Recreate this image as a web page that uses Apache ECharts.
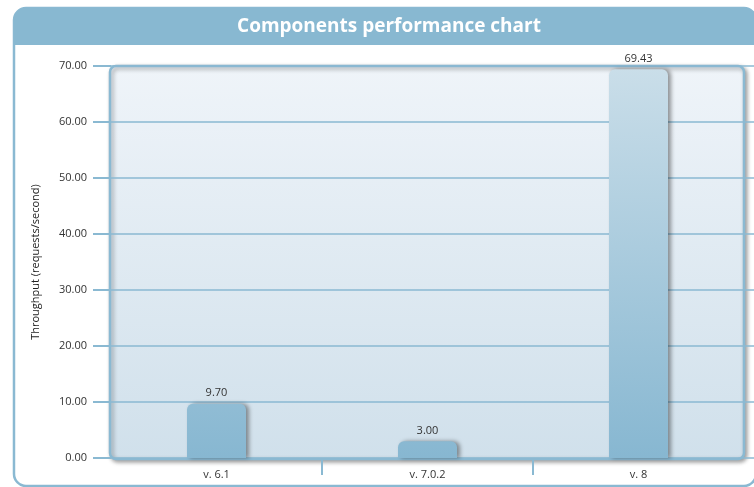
<!DOCTYPE html>
<html><head><meta charset="utf-8">
<script src="https://cdn.jsdelivr.net/npm/echarts@6/dist/echarts.min.js"></script>
<style>html,body{margin:0;padding:0;background:#fff}#c{width:754px;height:487px}</style>
</head><body><div id="c"></div>
<script>
var categories = ['v. 6.1', 'v. 7.0.2', 'v. 8'];
var throughput = [9.70, 3.00, 69.43];
var yTicks = {min: 0, max: 70, interval: 10};
var titleText = 'Components performance chart';
var yName = 'Throughput (requests/second)';

var FONT = '"Open Sans", "Noto Sans", sans-serif';
var LINE = '#8ab9d2';
var G = {left: 111, right: 10, top: 66, bottom: 29};
var chart = echarts.init(document.getElementById('c'));
var gTop = G.top, gBot = 487 - G.bottom;

chart.setOption({
  animation: false,
  graphic: [
    {type: 'rect', z: -30, shape: {x: 14, y: 8, width: 742, height: 478, r: 12},
     style: {fill: '#fff', stroke: LINE, lineWidth: 2.5}},
    {type: 'rect', z: -29, shape: {x: 14, y: 8, width: 742, height: 37, r: [12, 12, 0, 0]},
     style: {fill: '#88b8d1'}},
    {type: 'text', z: -28, x: 389, y: 27,
     style: {text: titleText, fill: '#fff', font: 'bold 19px ' + FONT, textAlign: 'center', textVerticalAlign: 'middle'}},
    {type: 'rect', z: -20, shape: {x: G.left - 1, y: gTop, width: 754 - G.right - G.left + 1, height: gBot - gTop + 1, r: 6},
     style: {
       fill: new echarts.graphic.LinearGradient(0, 0, 0, 1, [{offset: 0, color: '#eff4f9'}, {offset: 1, color: '#d0e0eb'}]),
       stroke: LINE, lineWidth: 2.5,
       shadowBlur: 4, shadowOffsetX: 2, shadowOffsetY: 2, shadowColor: 'rgba(0,0,0,0.35)'
     }}
  ],
  grid: [
    {left: G.left, right: G.right, top: G.top, bottom: G.bottom},
    {left: G.left, right: G.right, top: gBot + 2, height: 15}
  ],
  xAxis: [{
    type: 'category', data: categories, gridIndex: 0,
    axisLine: {show: false},
    axisTick: {show: false},
    axisLabel: {color: '#333', fontFamily: FONT, fontSize: 11, margin: 11}
  }, {
    type: 'category', data: categories, gridIndex: 1,
    axisLine: {show: false}, axisTick: {show: false}, axisLabel: {show: false},
    splitLine: {show: true, showMinLine: false, showMaxLine: false, lineStyle: {color: LINE, width: 2}}
  }],
  yAxis: [{
    type: 'value', min: yTicks.min, max: yTicks.max, interval: yTicks.interval,
    name: yName, nameLocation: 'middle', nameGap: 70,
    nameTextStyle: {color: '#222', fontFamily: FONT, fontSize: 11},
    axisLine: {show: false},
    axisTick: {show: true, length: 18, lineStyle: {color: LINE, width: 2}},
    axisLabel: {color: '#333', fontFamily: FONT, fontSize: 11, margin: 24,
                formatter: function (v) { return v.toFixed(2); }},
    splitLine: {show: true, lineStyle: {color: LINE, width: 1.5}}
  }, {
    type: 'value', position: 'right', min: yTicks.min, max: yTicks.max, interval: yTicks.interval,
    axisLine: {show: false}, axisLabel: {show: false}, splitLine: {show: false},
    axisTick: {show: true, length: 10, lineStyle: {color: LINE, width: 1.5}}
  }, {
    type: 'value', gridIndex: 1, show: false
  }],
  series: [{
    type: 'bar', data: throughput, barWidth: 59,
    itemStyle: {
      color: new echarts.graphic.LinearGradient(0, gTop, 0, gBot, [{offset: 0, color: '#cadee9'}, {offset: 1, color: '#87b7d1'}], true),
      borderRadius: [6, 6, 0, 0],
      shadowBlur: 4, shadowOffsetX: 3, shadowOffsetY: 0, shadowColor: 'rgba(0,0,0,0.4)'
    },
    label: {show: true, position: 'top', distance: 5, color: '#333', fontFamily: FONT, fontSize: 11,
            formatter: function (p) { return p.value.toFixed(2); }}
  }]
});
</script></body></html>
